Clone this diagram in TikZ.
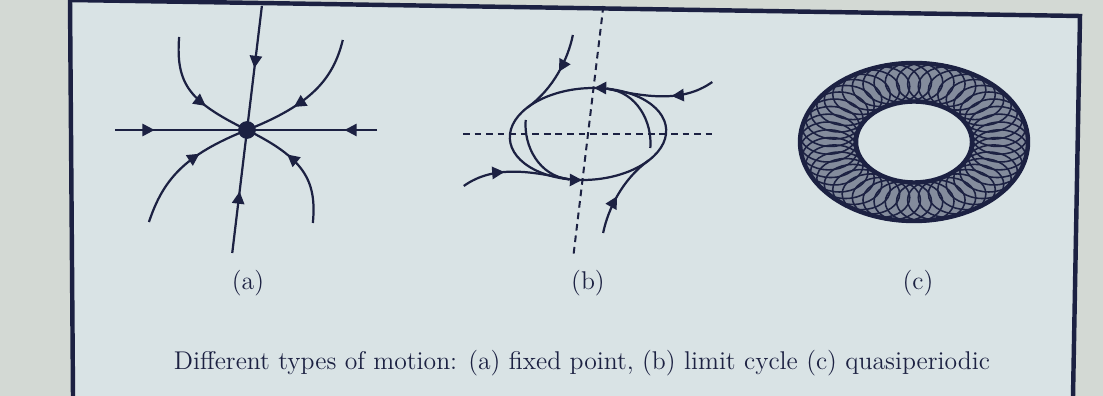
\documentclass[tikz,border=0pt]{standalone}
\usepackage{tikz}
\usetikzlibrary{arrows.meta, decorations.markings}

\definecolor{ink}{HTML}{1C2142}
\definecolor{paper}{HTML}{D9E3E5}
\definecolor{screen}{HTML}{D3D9D4}

\begin{document}
\begin{tikzpicture}[
  x=0.45pt, y=-0.45pt,
  every node/.style={font=\fontsize{11.55}{13}\selectfont, text=ink},
  flow/.style={draw=ink, line width=1pt},
  flowtip/.tip={Triangle[length=5.5pt, width=5.5pt]},
  midarrow/.style={postaction={decorate}, decoration={markings,
      mark=at position #1 with {\arrow{flowtip}}}},
  cyclearrows/.style={postaction={decorate}, decoration={markings,
      mark=at position 0.26 with {\arrowreversed{flowtip}},
      mark=at position 0.76 with {\arrowreversed{flowtip}}}},
  axisline/.style={draw=ink, line width=0.9pt, dash pattern=on 3pt off 2.2pt},
  torusline/.style={draw=ink, line width=0.7pt},
  torusrim/.style={draw=ink, line width=2pt}
]
\useasboundingbox (0,0) rectangle (1103,396);

% screen and frame
\fill[screen] (0,0) rectangle (1103,396);
\fill[paper] (70,0) -- (1080,16) -- (1073,396) -- (73,396) -- cycle;
\draw[ink, line width=2pt] (73,396) -- (70,0) -- (1080,16) -- (1073,396);

% (a) fixed point
\begin{scope}[shift={(247,130)}, xslant=0.12]
  \node[circle, fill=ink, inner sep=0pt, minimum size=8pt] (fp) at (0,0) {};
  \draw[flow, midarrow=0.3] (-132,0) -- (fp.center);
  \draw[flow, midarrow=0.25] (130,0) -- (fp.center);
  \draw[flow, midarrow=0.5] (0,-124) -- (fp.center);
  \draw[flow, midarrow=0.5] (0,123) -- (fp.center);
  \draw[flow, midarrow=0.62] (-79,-93) .. controls (-77,-45) and (-60,-28) .. (fp.center);
  \draw[flow, midarrow=0.62] (85,-90) .. controls (80,-50) and (60,-25) .. (fp.center);
  \draw[flow, midarrow=0.62] (-87,92) .. controls (-78,50) and (-60,25) .. (fp.center);
  \draw[flow, midarrow=0.62] (77,93) .. controls (76,50) and (60,28) .. (fp.center);
\end{scope}

% (b) limit cycle
\begin{scope}[shift={(588,134)}, xslant=0.12]
  \coordinate (cyc) at (0,0);
  \draw[axisline] (-125,0) -- (124,0);
  \draw[axisline] (0,-128) -- (0,121);
  \draw[flow, cyclearrows] (cyc) ellipse [x radius=78, y radius=46];
  \foreach \r in {0,180} {
    \begin{scope}[rotate=\r]
      \draw[flow, midarrow=0.45] (-27,-99) .. controls (-29,-75) and (-40,-45) .. (-63.9,-26.4);
      \draw[flow, midarrow=0.4] (118,-52) .. controls (90,-30) and (50,-38) .. (13.5,-45.3);
      \draw[flow] (64,14) .. controls (63,-12) and (44,-42) .. (13.5,-45.3);
    \end{scope}
  }
\end{scope}

% (c) quasiperiodic
\begin{scope}[shift={(914,142)}]
  \fill[ink!45!paper, even odd rule] (0,0) ellipse [x radius=115, y radius=80]
    (0,0) ellipse [x radius=57.5, y radius=40];
  \foreach \a in {0,7.5,...,352.5}
    \draw[torusline] ({86.25*cos(\a)},{60*sin(\a)}) ellipse [x radius=28.75, y radius=20];
  \draw[torusrim] (0,0) ellipse [x radius=114, y radius=79];
  \draw[torusrim] (0,0) ellipse [x radius=58, y radius=40.5];
\end{scope}

% labels
\node (la) at (248,283) {(a)};
\node (lb) at (588,283) {(b)};
\node (lcc) at (918,283) {(c)};
\node[anchor=base] (cap) at (582,370) {Different types of motion: (a) fixed point, (b) limit cycle (c) quasiperiodic};
\end{tikzpicture}
\end{document}
